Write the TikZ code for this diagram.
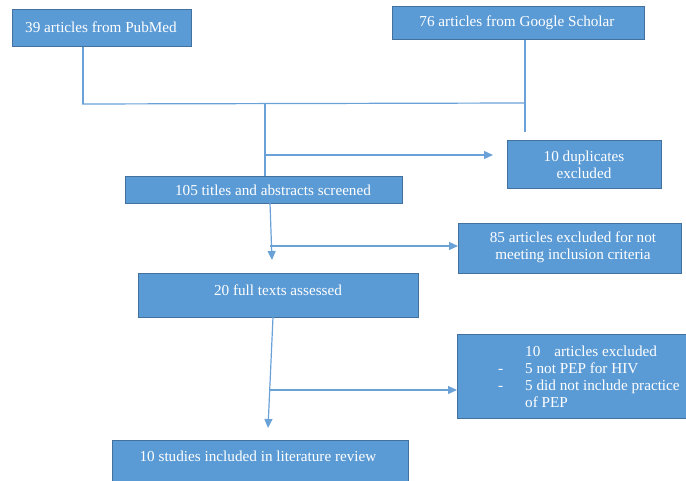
\documentclass[tikz,border=0pt]{standalone}
\usepackage{fontspec}
\setmainfont{Liberation Serif}
\newfontfamily\flowfont{Liberation Serif}
\usetikzlibrary{arrows.meta,calc}
\definecolor{boxfill}{HTML}{5B9BD5}
\definecolor{boxline}{HTML}{41719C}
\definecolor{wire}{HTML}{6AA2D8}

\begin{document}
\begin{tikzpicture}[x=1pt,y=-1pt,
  stagebox/.style={draw=boxline,fill=boxfill,line width=1pt,inner sep=0pt,
                   anchor=north west},
  boxtext/.style={text=white,font=\flowfont\fontsize{15.2}{17}\selectfont,
                  inner sep=0pt,align=center},
  wireline/.style={draw=wire,line width=1.2pt},
  arrowline/.style={wireline,-{Triangle[length=9pt,width=8pt]}}]
\useasboundingbox (0,0) rectangle (686,481);

% boxes (top-left corner, size)
\node[stagebox,minimum width=179pt,minimum height=37pt] (pub)   at (12,9)    {};
\node[stagebox,minimum width=252pt,minimum height=33pt] (gs)    at (392,6)   {};
\node[stagebox,minimum width=154pt,minimum height=48pt] (dup)   at (507,140) {};
\node[stagebox,minimum width=277pt,minimum height=27pt] (scr)   at (125,176) {};
\node[stagebox,minimum width=223pt,minimum height=50pt] (ex85)  at (458,223) {};
\node[stagebox,minimum width=280pt,minimum height=44pt] (full)  at (138,273) {};
\node[stagebox,minimum width=240pt,minimum height=84pt] (ex10)  at (457,334) {};
\node[stagebox,minimum width=296pt,minimum height=55pt] (study) at (112,440) {};

% box texts
\node[boxtext] (pubtxt)   at (101,27)    {39 articles from PubMed};
\node[boxtext] (gstxt)    at (517,23)    {76 articles from Google Scholar};
\node[boxtext] (duptxt)   at (584,164.5) {10 duplicates\\excluded};
\node[boxtext] (scrtxt)   at (273,190)   {105 titles and abstracts screened};
\node[boxtext] (ex85txt)  at (573,247.5) {85 articles excluded for not\\meeting inclusion criteria};
\node[boxtext] (fulltxt)  at (278,290)   {20 full texts assessed};
\node[boxtext,align=left,anchor=west] (ex10txt) at (498,376.5)
  {\makebox[27pt][l]{}10\hspace{14pt}articles excluded\\
   \makebox[27pt][l]{-}5 not PEP for HIV\\
   \makebox[27pt][l]{-}5 did not include practice\\
   \makebox[27pt][l]{}of PEP};
\node[boxtext] (studytxt) at (258,456)   {10 studies included in literature review};

% junction points of the connectors
\coordinate (pubfoot) at (83,104);
\coordinate (gsfoot)  at (525,132);
\coordinate (joinL)   at (82,104);
\coordinate (joinR)   at (525,103);
\coordinate (joinM)   at (265,103);
\coordinate (tapA)    at (265,155);
\coordinate (scrfoot) at (270,203);
\coordinate (tipB)    at (272,260);
\coordinate (tapB)    at (270,246);
\coordinate (fullfoot) at (273,317);
\coordinate (tipC)    at (268,428);
\coordinate (tapC)    at (270,390);

% connectors
\draw[wireline] (pubfoot |- pub.south) -- (pubfoot);
\draw[wireline] (gsfoot |- gs.south) -- (gsfoot);
\draw[wireline] (joinL) -- (joinR);
\draw[wireline] (joinM) -- (joinM |- scr.north);
\draw[arrowline,shorten >=14pt] (tapA) -- (tapA -| dup.west);
\draw[arrowline] (scrfoot) -- (tipB);
\draw[arrowline] (tapB) -- (tapB -| ex85.west);
\draw[arrowline] (fullfoot) -- (tipC);
\draw[arrowline] (tapC) -- (tapC -| ex10.west);
\end{tikzpicture}
\end{document}
